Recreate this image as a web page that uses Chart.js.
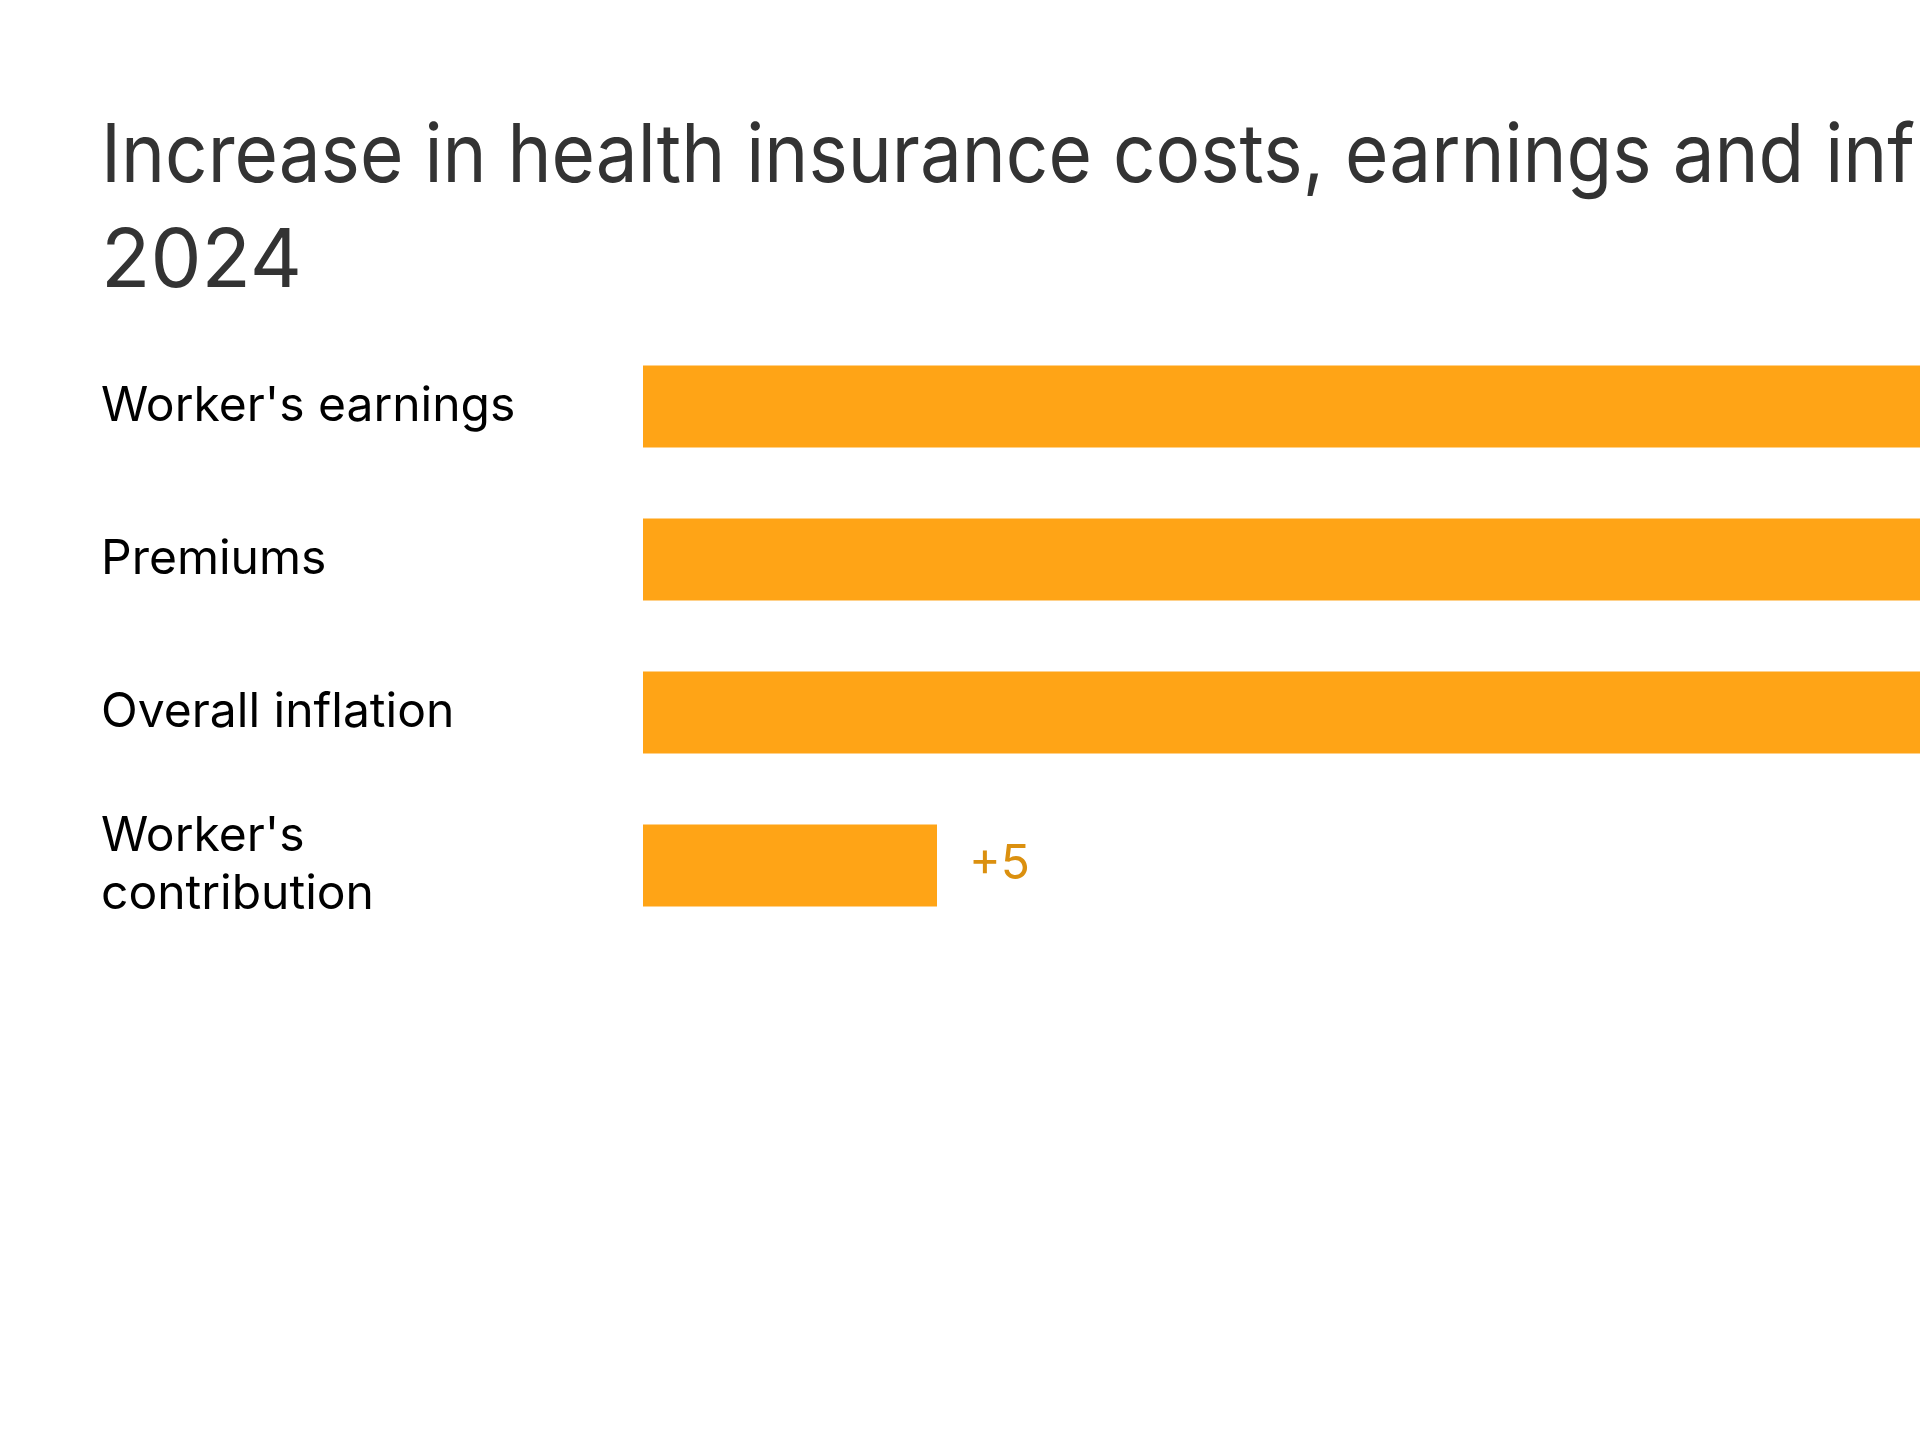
<!DOCTYPE html>
<html>
<head>
<meta charset="utf-8">
<script src="https://cdn.jsdelivr.net/npm/chart.js@4/dist/chart.umd.min.js"></script>
<style>
    html, body { margin: 0; padding: 0; background: #fff; overflow: hidden; width: 1920px; height: 1440px; }
    #wrap { position: absolute; left: 0; top: 0; width: 2500px; height: 1440px; }
</style>
</head>
<body>
<div id="wrap"><canvas id="graphe"></canvas></div>
<script>
// Données du graphique
var V_categories = [["Worker's earnings"], ["Premiums"], ["Overall inflation"], ["Worker's", "contribution"]];
var V_values = [28, 24, 23, 5];
var V_title = ["Increase in health insurance costs, earnings and inflation, 2019 to", "2024"];

var S_font = "Inter, 'Noto Sans', sans-serif";

// Etiquettes de valeur au bout des barres
var O_valueLabels = {
    id: 'valueLabels',
    afterDatasetsDraw: function(chart){
        var O_ctx = chart.ctx;
        var O_meta = chart.getDatasetMeta(0);
        O_ctx.save();
        O_ctx.font = '400 48px ' + S_font;
        O_ctx.fillStyle = '#DB900F';
        O_ctx.textAlign = 'left';
        O_ctx.textBaseline = 'middle';
        for (let I_index = 0; I_index < O_meta.data.length; I_index++) {
            const O_bar = O_meta.data[I_index];
            O_ctx.fillText('+' + V_values[I_index], O_bar.x + 32, O_bar.y - 1);
        }
        O_ctx.restore();
    }
};

var O_ctx_graphe = document.getElementById('graphe').getContext('2d');
var O_graphe = new Chart(O_ctx_graphe, {
    type: 'bar',
    data: {
        labels: V_categories,
        datasets: [{
            data: V_values,
            backgroundColor: '#FFA416',
            borderWidth: 0,
            barPercentage: 0.536,
            categoryPercentage: 1
        }]
    },
    plugins: [O_valueLabels],
    options: {
        indexAxis: 'y',
        responsive: true,
        maintainAspectRatio: false,
        animation: false,
        layout: { padding: { left: 101, right: 93, top: 105, bottom: 498 } },
        plugins: {
            legend: { display: false },
            tooltip: { enabled: false },
            title: {
                display: true,
                text: V_title,
                align: 'start',
                color: '#333333',
                font: { family: S_font, size: 81, weight: '400', lineHeight: 1.296 },
                padding: { top: 0, bottom: 15 }
            }
        },
        scales: {
            x: { display: false, min: 0, max: 30 },
            y: {
                grid: { display: false, drawTicks: false },
                border: { display: false },
                afterFit: function(scale){ scale.width = 542; },
                ticks: {
                    crossAlign: 'far',
                    padding: 0,
                    color: '#000000',
                    font: { family: S_font, size: 48, weight: '400', lineHeight: 1.2 }
                }
            }
        }
    }
});
</script>
</body>
</html>
